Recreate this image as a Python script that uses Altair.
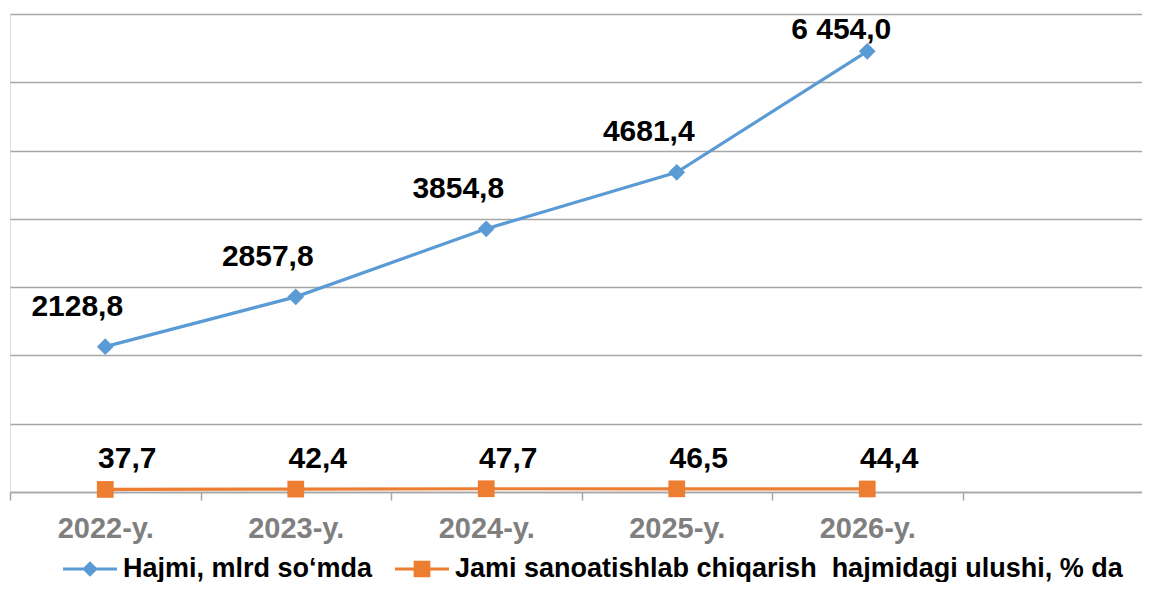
import altair as alt
import pandas as pd

# ---- data ----
years = ["2022-y.", "2023-y.", "2024-y.", "2025-y.", "2026-y."]
volume = [2128.8, 2857.8, 3854.8, 4681.4, 6454.0]
volume_labels = ["2128,8", "2857,8", "3854,8", "4681,4", "6 454,0"]
share = [37.7, 42.4, 47.7, 46.5, 44.4]
share_labels = ["37,7", "42,4", "47,7", "46,5", "44,4"]
series_names = ["Hajmi, mlrd so\u2018mda",
                "Jami sanoatishlab chiqarish\u00a0 hajmidagi ulushi, % da"]
series_colors = ["#5B9BD5", "#ED7D31"]
series_shapes = ["diamond", "square"]
x_domain = years + [" "]          # the axis keeps one empty slot on the right
y_ticks = [0, 1000, 2000, 3000, 4000, 5000, 6000, 7000]

rows = []
for yr, v, lb in zip(years, volume, volume_labels):
    rows.append({"year": yr, "value": v, "label": lb, "series": series_names[0]})
for yr, v, lb in zip(years, share, share_labels):
    rows.append({"year": yr, "value": v, "label": lb, "series": series_names[1]})
df = pd.DataFrame(rows)

FONT = "Liberation Sans"
GRID = "#a6a6a6"

x_enc = alt.X(
    "year:N",
    sort=x_domain,
    scale=alt.Scale(type="band", domain=x_domain, paddingInner=0, paddingOuter=0),
    axis=alt.Axis(
        title=None, labelAngle=0, labelFont=FONT, labelFontSize=29,
        labelFontWeight="bold", labelColor="#7f7f7f", labelBaseline="alphabetic",
        labelPadding=37, tickBand="extent", tickSize=8, tickColor=GRID,
        tickWidth=1.5, domainColor=GRID, domainWidth=1.5, grid=False,
    ),
)
y_enc = alt.Y(
    "value:Q",
    scale=alt.Scale(domain=[0, 7000], nice=False, zero=True),
    axis=alt.Axis(
        title=None, labels=False, ticks=False, domain=False, values=y_ticks,
        grid=True, gridColor=GRID, gridWidth=1.5,
    ),
)

base = alt.Chart(df).encode(x=x_enc, y=y_enc)

layers = []
for name, col, shp in zip(series_names, series_colors, series_shapes):
    sub = base.transform_filter(alt.datum.series == name)
    layers.append(sub.mark_line(strokeWidth=3.2, color=col))
    layers.append(sub.mark_point(filled=True, size=280, opacity=1, color=col, shape=shp))

# legend-only layer: draws no marks; symbols = line segment + marker
diamond_sym = "M-1,-0.056H1V0.056H-1ZM0,-0.29L0.29,0L0,0.29L-0.29,0Z"
square_sym = "M-1,-0.056H1V0.056H-1ZM-0.31,-0.31H0.31V0.31H-0.31Z"
legend_spec = alt.Legend(
    orient="none", legendX=53, legendY=528, direction="horizontal", title=None,
    labelFont=FONT, labelFontSize=27, labelFontWeight="bold",
    labelColor="black", labelLimit=0, labelOffset=6,
    symbolSize=2916, symbolOpacity=1, symbolStrokeWidth=0,
    columnPadding=22,
)
legend_layer = base.transform_filter("false").mark_point(filled=True, opacity=1).encode(
    color=alt.Color("series:N",
                    scale=alt.Scale(domain=series_names, range=series_colors),
                    legend=legend_spec),
    shape=alt.Shape("series:N",
                    scale=alt.Scale(domain=series_names, range=[diamond_sym, square_sym]),
                    legend=legend_spec),
)
layers.append(legend_layer)

text_style = dict(font=FONT, fontSize=30, fontWeight="bold", color="black",
                  baseline="alphabetic", align="center")

layers.append(base.transform_filter(
    (alt.datum.series == series_names[0]) & (alt.datum.value < max(volume))
).mark_text(dx=-28, dy=-31, **text_style).encode(text="label:N"))

layers.append(base.transform_filter(
    (alt.datum.series == series_names[0]) & (alt.datum.value >= max(volume))
).mark_text(dx=-26, dy=-12, **text_style).encode(text="label:N"))

layers.append(base.transform_filter(
    alt.datum.series == series_names[1]
).mark_text(dx=22, dy=-21, **text_style).encode(text="label:N"))

chart = alt.layer(*layers).properties(
    width=1143, height=478,
    autosize=alt.AutoSizeParams(type="none"),
    padding={"left": 2, "top": 6, "right": -11, "bottom": 90},
).configure_view(stroke=None).configure(background="white")

chart.save("out.html", embed_options={"renderer": "svg", "actions": False})
